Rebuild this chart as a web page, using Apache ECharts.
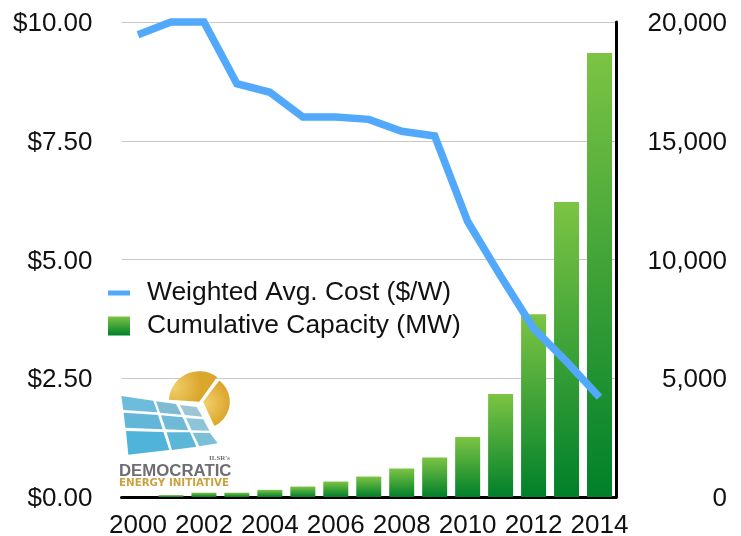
<!DOCTYPE html>
<html><head><meta charset="utf-8">
<style>html,body{margin:0;padding:0;background:#fff}#c{width:741px;height:536px}</style>
<script src="https://cdn.jsdelivr.net/npm/echarts@6/dist/echarts.min.js"></script>
</head><body><div id="c"></div>
<script>
const years=['2000','2001','2002','2003','2004','2005','2006','2007','2008','2009','2010','2011','2012','2013','2014'];
const costPerWatt=[9.73,10.0,10.0,8.7,8.52,8.0,8.0,7.95,7.7,7.6,5.8,4.65,3.55,2.85,2.1];
const capacityMW=[0,80,180,180,300,440,650,860,1200,1660,2530,4340,7700,12420,18700];
const costName='Weighted Avg. Cost ($/W)';
const capName='Cumulative Capacity (MW)';
const FONT='"Liberation Sans", Helvetica, Arial, sans-serif';
const barGrad=new echarts.graphic.LinearGradient(0,0,0,1,[{offset:0,color:'#7cc444'},{offset:1,color:'#00802a'}]);
const S=1/3,ox=100,oy=360;
const P=pts=>pts.map(p=>[ox+p[0]*S,oy+p[1]*S]);
const panels=[
 [[64,108],[160,122],[172,157],[70,150]],
 [[168,124],[228,132],[245,164],[180,158]],
 [[240,135],[290,141],[307,170],[255,165]],
 [[71,158],[174,165],[188,208],[76,203]],
 [[183,166],[248,172],[265,211],[197,208]],
 [[258,174],[310,178],[328,212],[275,211]],
 [[78,213],[190,216],[208,270],[85,284]],
 [[200,217],[270,217],[289,260],[216,270]],
 [[278,218],[330,219],[353,250],[298,259]]];
const panelCols=['#6dbcdb','#7fbcd4','#9cc6d6','#62b6d8','#6fbad6','#8cc4d8','#4fb3da','#5cb6d8','#7cc0d8'];
const sunFill=new echarts.graphic.RadialGradient(0.1,0.5,0.9,[{offset:0,color:'#f0cf6a'},{offset:1,color:'#dba62c'}]);
const logo=[
 {type:'sector',z:50,shape:{cx:199.3,cy:401.7,r:30.5,r0:0,startAngle:Math.PI*1.02,endAngle:Math.PI*1.7},style:{fill:sunFill}},
 {type:'sector',z:50,shape:{cx:203,cy:401.7,r:26.8,r0:0,startAngle:-Math.PI*0.29,endAngle:Math.PI*0.36},style:{fill:sunFill}},
 {type:'polyline',z:51,shape:{points:P([[350,60],[305,125],[343,218]])},style:{stroke:'#fff',lineWidth:2.5,fill:null}},
 ...panels.map((q,i)=>({type:'polygon',z:52,shape:{points:P(q)},style:{fill:panelCols[i]}})),
 {type:'text',z:53,style:{x:230,y:458,text:"ILSR's",align:'right',verticalAlign:'middle',fill:'#6d6e71',font:'bold 7px "Liberation Serif", serif'}},
 {type:'text',z:53,style:{x:119,y:471.5,text:'DEMOCRATIC',align:'left',verticalAlign:'middle',fill:'#6d6e71',font:'bold 16.8px '+FONT}},
 {type:'text',z:53,style:{x:119,y:483,text:'ENERGY INITIATIVE',align:'left',verticalAlign:'middle',fill:'#c9a23f',font:'bold 10.3px "DejaVu Sans", sans-serif'}}
];
const legendText={fontFamily:FONT,fontSize:26.4,color:'#111',padding:[0,0,0,12]};
const chart=echarts.init(document.getElementById('c'),null,{renderer:'canvas'});
chart.setOption({
 animation:false,backgroundColor:'#fff',
 textStyle:{fontFamily:FONT},
 grid:{left:121.5,right:125,top:22,bottom:39,containLabel:false,outerBoundsMode:'none'},
 legend:[
  {orient:'vertical',left:103,top:275,padding:5,itemWidth:22,itemHeight:5,selectedMode:false,textStyle:legendText,
   data:[{name:costName,icon:'rect'}]},
  {orient:'vertical',left:103,top:308,padding:5,itemWidth:22,itemHeight:19,selectedMode:false,textStyle:legendText,
   data:[{name:capName,icon:'rect'}]}],
 xAxis:{type:'category',data:years,
  axisLine:{show:true,lineStyle:{color:'#000',width:3}},axisTick:{show:false},
  axisLabel:{interval:1,fontSize:26,color:'#111',margin:16,fontFamily:FONT},splitLine:{show:false}},
 yAxis:[
  {type:'value',min:0,max:10,interval:2.5,position:'left',
   axisLine:{show:false},axisTick:{show:false},
   axisLabel:{fontSize:26,color:'#111',margin:29,fontFamily:FONT,verticalAlign:'top',lineHeight:4,formatter:v=>'$'+v.toFixed(2)},
   splitLine:{show:true,lineStyle:{color:'#c8c8c8',width:1}}},
  {type:'value',min:0,max:20000,interval:5000,position:'right',
   axisLine:{show:true,lineStyle:{color:'#000',width:3}},axisTick:{show:false},
   axisLabel:{fontSize:26,color:'#111',margin:111,align:'right',fontFamily:FONT,verticalAlign:'top',lineHeight:4,
    formatter:v=>v.toLocaleString('en-US')},
   splitLine:{show:false}}],
 series:[
  {name:capName,type:'bar',yAxisIndex:1,data:capacityMW,barWidth:25,itemStyle:{color:barGrad},z:2},
  {name:costName,type:'line',yAxisIndex:0,data:costPerWatt,clip:false,showSymbol:false,symbol:'none',
   lineStyle:{color:'#52a9fb',width:7.5,join:'miter',cap:'butt'},itemStyle:{color:'#52a9fb'},z:3}
 ],
 graphic:{elements:logo}
});
</script></body></html>
